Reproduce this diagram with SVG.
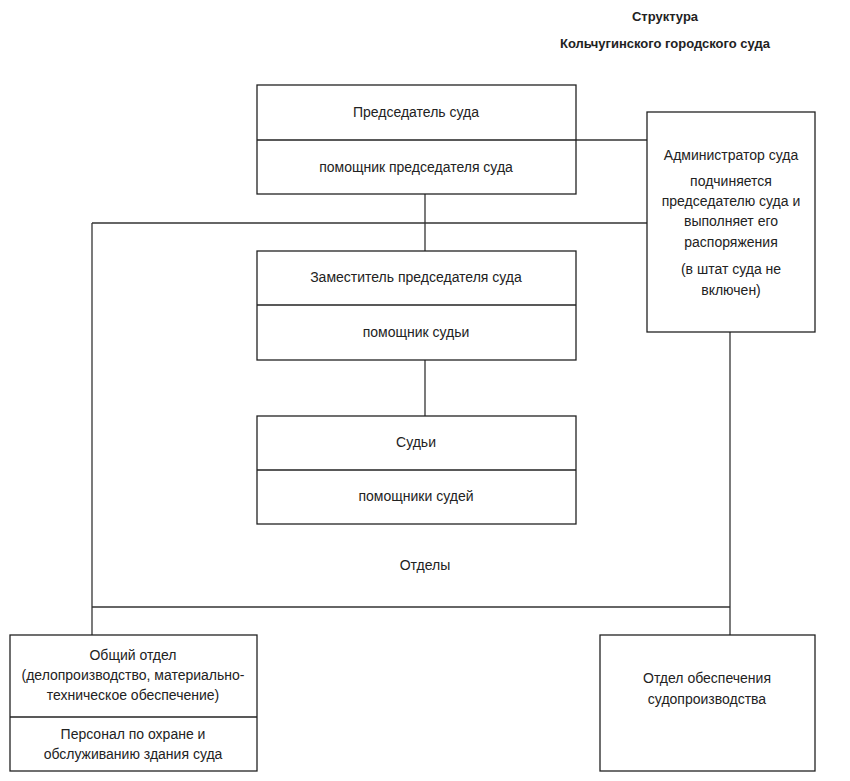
<svg xmlns="http://www.w3.org/2000/svg" width="850" height="781" viewBox="0 0 850 781">
<style>
.box{fill:#fff;stroke:#222;stroke-width:1.3}
.div{stroke:#222;stroke-width:1.3}
.ln{stroke:#333;stroke-width:1.3;fill:none}
text{font-family:"Liberation Sans",Arial,sans-serif;font-size:14px;fill:#222;text-anchor:middle}
.t{font-weight:bold;font-size:13px}
</style>
<rect width="850" height="781" fill="#fff"/>
<g id="title">
<text class="t" x="665" y="21">Структура</text>
<text class="t" x="665" y="48">Кольчугинского городского суда</text>
</g>
<g id="connectors">
<line class="ln" x1="576" y1="140" x2="647" y2="140"/>
<line class="ln" x1="425" y1="194" x2="425" y2="251"/>
<line class="ln" x1="92" y1="223" x2="647" y2="223"/>
<line class="ln" x1="92" y1="223" x2="92" y2="635"/>
<line class="ln" x1="425" y1="360" x2="425" y2="416"/>
<line class="ln" x1="92" y1="607" x2="730" y2="607"/>
<line class="ln" x1="730" y1="332" x2="730" y2="635"/>
</g>
<g id="chairman">
<rect class="box" x="257" y="85" width="319" height="109"/>
<line class="div" x1="257" y1="140" x2="576" y2="140"/>
<text x="416" y="117">Председатель суда</text>
<text x="416" y="172">помощник председателя суда</text>
</g>
<g id="administrator">
<rect class="box" x="647" y="112" width="168" height="220"/>
<text x="731" y="160">Администратор суда</text>
<text x="731" y="186">подчиняется</text>
<text x="731" y="206">председателю суда и</text>
<text x="731" y="226">выполняет его</text>
<text x="731" y="247">распоряжения</text>
<text x="731" y="274">(в штат суда не</text>
<text x="731" y="295">включен)</text>
</g>
<g id="deputy">
<rect class="box" x="257" y="251" width="319" height="109"/>
<line class="div" x1="257" y1="305" x2="576" y2="305"/>
<text x="416" y="282">Заместитель председателя суда</text>
<text x="416" y="337">помощник судьи</text>
</g>
<g id="judges">
<rect class="box" x="257" y="416" width="319" height="108"/>
<line class="div" x1="257" y1="470" x2="576" y2="470"/>
<text x="416" y="447">Судьи</text>
<text x="416" y="501">помощники судей</text>
</g>
<g id="departments">
<text x="425" y="570">Отделы</text>
</g>
<g id="general">
<rect class="box" x="10" y="635" width="247" height="136"/>
<line class="div" x1="10" y1="717" x2="257" y2="717"/>
<text x="133" y="660">Общий отдел</text>
<text x="133" y="680">(делопроизводство, материально-</text>
<text x="133" y="700">техническое обеспечение)</text>
<text x="133" y="739">Персонал по охране и</text>
<text x="133" y="759">обслуживанию здания суда</text>
</g>
<g id="proceedings">
<rect class="box" x="600" y="635" width="215" height="136"/>
<text x="707" y="683">Отдел обеспечения</text>
<text x="707" y="704">судопроизводства</text>
</g>
</svg>
